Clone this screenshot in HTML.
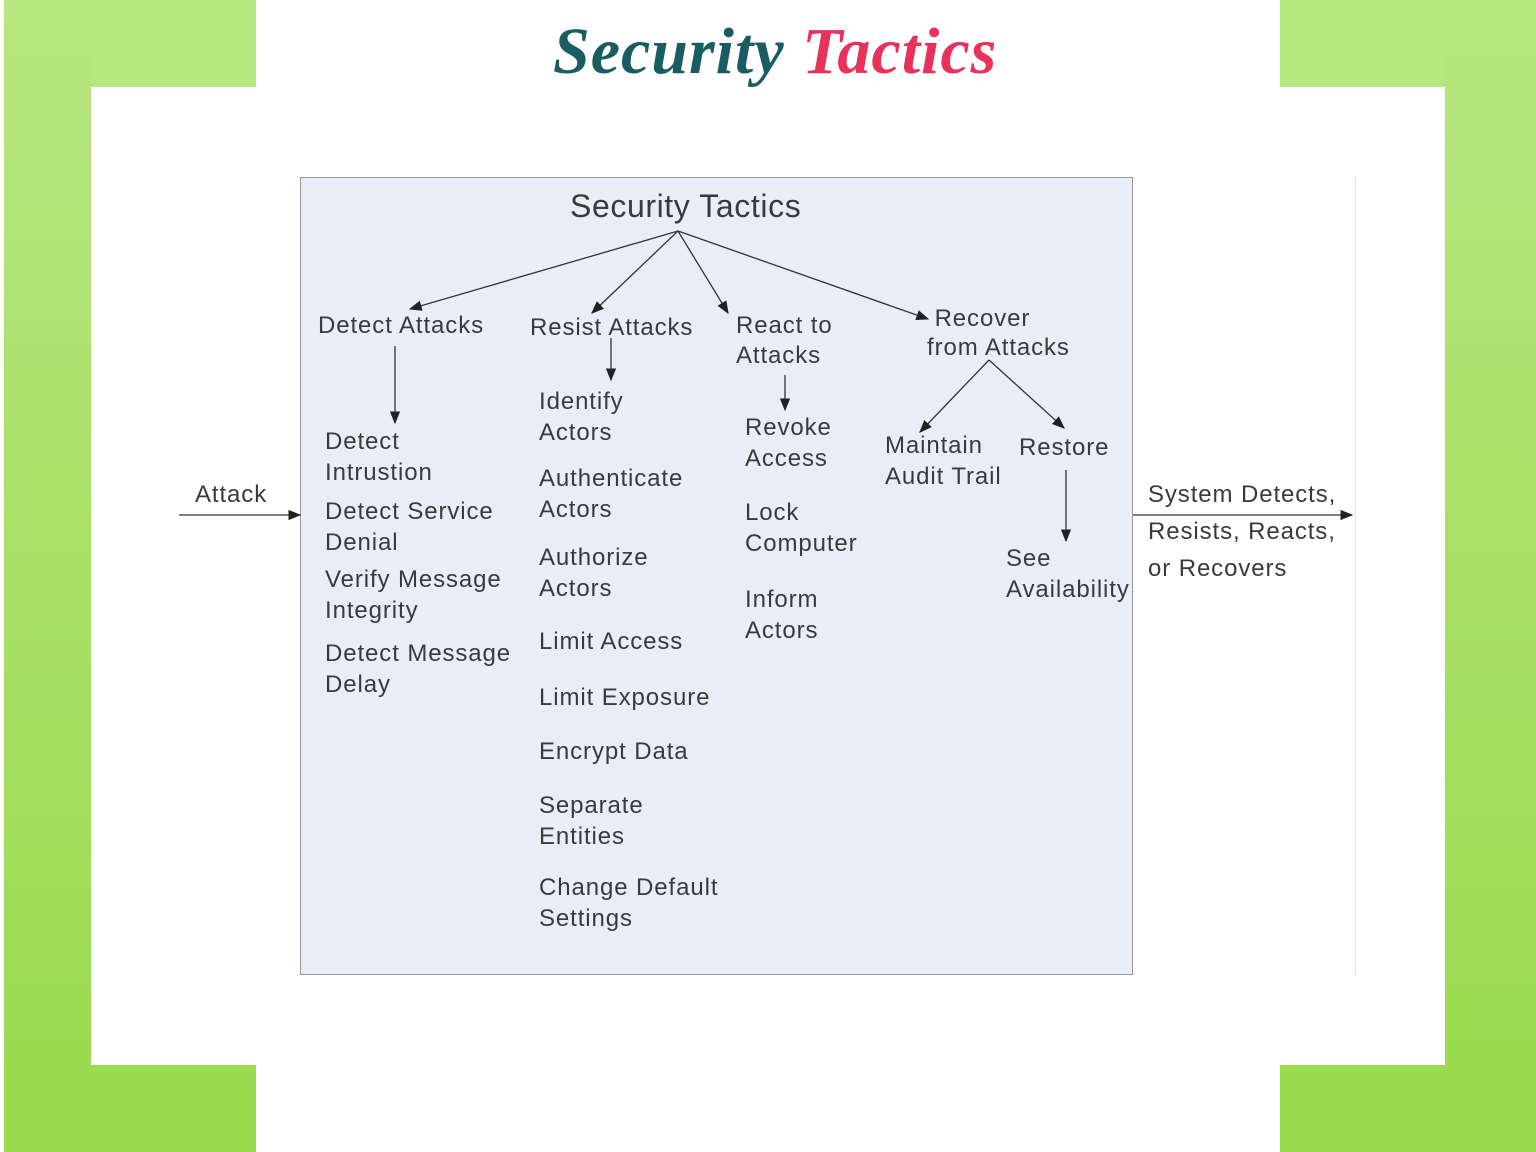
<!DOCTYPE html>
<html><head><style>
body{margin:0;width:1536px;height:1152px;position:relative;background:#fff;overflow:hidden;font-family:"Liberation Sans",sans-serif;}
.g{position:absolute;background:linear-gradient(#b8e680,#98da4c);}
.t{position:absolute;font-size:24px;color:#3a3a3a;line-height:31px;white-space:nowrap;letter-spacing:0.9px;}
</style></head><body>
<div class="g" style="left:4px;top:0;width:252px;height:87px;background:#b8e680"></div>
<div class="g" style="left:4px;top:0;width:87px;height:1152px;background-size:100% 1152px"></div>
<div class="g" style="left:4px;top:1065px;width:252px;height:87px;background:#9bdb4e"></div>
<div class="g" style="left:1280px;top:0;width:256px;height:87px;background:#b8e680"></div>
<div class="g" style="left:1445px;top:0;width:91px;height:1152px"></div>
<div class="g" style="left:1280px;top:1065px;width:256px;height:87px;background:#9bdb4e"></div>
<div style="position:absolute;left:553px;top:14px;font:italic bold 66px 'Liberation Serif',serif;color:#1a5c63;white-space:nowrap;letter-spacing:1px">Security <span style="color:#e8325a">Tactics</span></div>
<div style="position:absolute;left:300px;top:177px;width:831px;height:796px;background:#e8eef8;border:1.5px solid #999"></div>
<div style="position:absolute;left:1355px;top:177px;width:1px;height:798px;background:#e4e4e4"></div>
<svg style="position:absolute;left:0;top:0" width="1536" height="1152">
<defs><marker id="a" markerWidth="10" markerHeight="8" refX="9" refY="4" orient="auto"><path d="M0,0L10,4L0,8z" fill="#222"/></marker></defs>
<g stroke="#333" stroke-width="1.3" fill="none" marker-end="url(#a)">
<line x1="678" y1="231" x2="410" y2="309"/>
<line x1="678" y1="231" x2="592" y2="313"/>
<line x1="678" y1="231" x2="728" y2="313"/>
<line x1="678" y1="231" x2="928" y2="319"/>
<line x1="395" y1="346" x2="395" y2="423"/>
<line x1="611" y1="338" x2="611" y2="380"/>
<line x1="785" y1="375" x2="785" y2="410"/>
<line x1="989" y1="360" x2="920" y2="432"/>
<line x1="989" y1="360" x2="1064" y2="428"/>
<line x1="1066" y1="470" x2="1066" y2="541"/>
<line x1="179" y1="515" x2="300" y2="515"/>
<line x1="1133" y1="515" x2="1352" y2="515"/>
</g></svg>
<div class="t" style="left:570px;top:191px;font-size:32px;letter-spacing:0.6px">Security Tactics</div>
<div class="t" style="left:318px;top:310px">Detect Attacks</div>
<div class="t" style="left:530px;top:312px">Resist Attacks</div>
<div class="t" style="left:736px;top:311px;line-height:30px">React to<br>Attacks</div>
<div class="t" style="left:927px;top:304px;line-height:29px">&nbsp;Recover<br>from Attacks</div>
<div class="t" style="left:195px;top:479px">Attack</div>
<div class="t" style="left:325px;top:426px">Detect<br>Intrustion</div>
<div class="t" style="left:325px;top:496px">Detect Service<br>Denial</div>
<div class="t" style="left:325px;top:564px">Verify Message<br>Integrity</div>
<div class="t" style="left:325px;top:638px">Detect Message<br>Delay</div>
<div class="t" style="left:539px;top:386px">Identify<br>Actors</div>
<div class="t" style="left:539px;top:463px">Authenticate<br>Actors</div>
<div class="t" style="left:539px;top:542px">Authorize<br>Actors</div>
<div class="t" style="left:539px;top:626px">Limit Access</div>
<div class="t" style="left:539px;top:682px">Limit Exposure</div>
<div class="t" style="left:539px;top:736px">Encrypt Data</div>
<div class="t" style="left:539px;top:790px">Separate<br>Entities</div>
<div class="t" style="left:539px;top:872px">Change Default<br>Settings</div>
<div class="t" style="left:745px;top:412px">Revoke<br>Access</div>
<div class="t" style="left:745px;top:497px">Lock<br>Computer</div>
<div class="t" style="left:745px;top:584px">Inform<br>Actors</div>
<div class="t" style="left:885px;top:430px">Maintain<br>Audit Trail</div>
<div class="t" style="left:1019px;top:432px">Restore</div>
<div class="t" style="left:1006px;top:543px">See<br>Availability</div>
<div class="t" style="left:1148px;top:476px;line-height:37px">System Detects,<br>Resists, Reacts,<br>or Recovers</div>
</body></html>
